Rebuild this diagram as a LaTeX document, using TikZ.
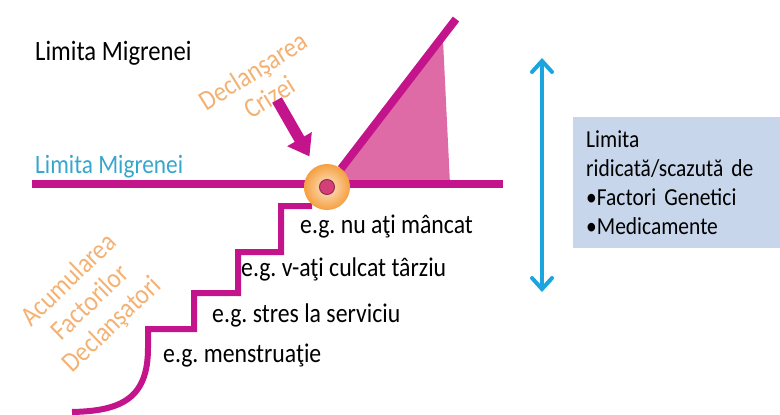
\documentclass[tikz,border=0pt]{standalone}
\usepackage{fontspec}
\setmainfont{Carlito}[FakeStretch=0.88]
\usetikzlibrary{arrows.meta}
\frenchspacing
\definecolor{limit}{HTML}{C4148C}
\definecolor{attack}{HTML}{DE6AA6}
\definecolor{trigger}{HTML}{F3B274}
\definecolor{limitcyan}{HTML}{36A6CC}
\definecolor{shiftblue}{HTML}{1BA5DE}
\definecolor{boxfill}{HTML}{C7D6EB}
\definecolor{ember}{HTML}{F5A040}
\definecolor{emberlight}{HTML}{FDE6CC}
\definecolor{core}{HTML}{D43F78}
\tikzset{
  title/.style     = {font=\fontsize{28}{32}\selectfont, inner sep=0pt, anchor=base west},
  example/.style   = {font=\fontsize{27}{31}\selectfont, inner sep=0pt, anchor=base west},
  faded/.style     = {text=trigger, align=center, font=\fontsize{28}{31}\selectfont, inner sep=0pt},
  limitline/.style = {draw=limit, line width=8pt},
  stair/.style     = {draw=limit, line width=6pt, line join=miter},
  push/.style      = {draw=limit, line width=11pt,
                      -{Triangle[width=27pt,length=20pt]}, shorten >=12pt},
  updown/.style    = {draw=shiftblue, line width=4pt, line cap=round,
                      {Straight Barb[width=20pt,length=11pt,line cap=round]}-{Straight Barb[width=20pt,length=11pt,line cap=round]}},
  limbox/.style    = {fill=boxfill, anchor=north west, minimum width=207pt, minimum height=131pt,
                      text width=186pt, inner xsep=13pt, align=left,
                      font=\fontsize{24.4}{29.3}\selectfont},
  onset/.style     = {circle, minimum size=46pt, inner sep=0pt,
                      inner color=emberlight, outer color=ember},
  coredot/.style   = {circle, minimum size=15pt, inner sep=0pt, fill=core, draw=core!70!black, line width=1pt},
}

\begin{document}
\begin{tikzpicture}[x=1pt,y=-1pt]
  \useasboundingbox (0,0) rectangle (780,415);
  % threshold and the rising attack
  \coordinate (lstart) at (32,184);
  \coordinate (lend) at (503,184);
  \coordinate (peak) at (456,19);
  \fill[attack] (327,184) -- (443,40) -- (450,184) -- cycle;
  \draw[limitline] (lstart) -- (lend);
  % staircase of triggers
  \draw[stair] (312,206) -- (281,206) -- (281,252) -- (238,252) -- (238,293)
    -- (194,293) -- (194,329) -- (148,329) -- (148,348)
    .. controls (148,398) and (122,411) .. (72,412);
  \node[onset] (onset) at (327,187) {};
  \draw[limitline] (onset) -- (peak);
  \node[coredot] (core) at (onset) {};
  % labels
  \node[title] (threshold) at (35,60) {Limita Migrenei};
  \node[title, text=limitcyan, font=\fontsize{26.5}{30}\selectfont] (thrline) at (35,173) {Limita Migrenei};
  \node[faded, rotate=32] (crisis) at (261,84) {Declanşarea\\Crizei};
  \coordinate (pushstart) at (277,100);
  \draw[push] (pushstart) -- (onset);
  \node[faded, rotate=44] (build) at (91,303) {Acumularea\\Factorilor\\Declanşatori};
  \node[example] (ex1) at (300,233) {e.g. nu aţi mâncat};
  \node[example] (ex2) at (241,276) {e.g. v-aţi culcat târziu};
  \node[example] (ex3) at (212,322) {e.g. stres la serviciu};
  \node[example] (ex4) at (163,362) {e.g. menstruaţie};
  % the limit can move
  \coordinate (rtop) at (542,58);
  \coordinate (rbot) at (542,292);
  \draw[updown] (rtop) -- (rbot);
  \node[limbox] (shift) at (573,117) {Limita\\ridicată/scazută de\\•Factori Genetici\\•Medicamente};
\end{tikzpicture}
\end{document}
